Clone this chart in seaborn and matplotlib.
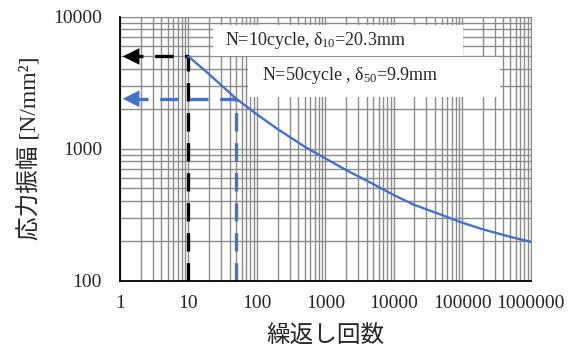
import numpy as np
import pandas as pd
import matplotlib
matplotlib.use("Agg")
import matplotlib.pyplot as plt
import seaborn as sns
from matplotlib.patches import Rectangle
from matplotlib.ticker import LogLocator, FixedLocator

#### Data
cycles = [10, 20, 50, 100, 200, 500, 1000, 2000, 5000, 10000,
          20000, 50000, 100000, 200000, 500000, 1000000]
stress = [5000, 3670, 2390, 1820, 1410, 1035, 845, 690, 540, 445,
          375, 315, 275, 245, 215, 197]
n10, s10 = 10, 5000
n50, s50 = 50, 2390
x_ticks = [1, 10, 100, 1000, 10000, 100000, 1000000]
y_ticks = [100, 1000, 10000]
label_10 = r"N=10cycle, $\delta_{10}$=20.3mm"
label_50 = r"N=50cycle , $\delta_{50}$=9.9mm"

df = pd.DataFrame({"N": cycles, "S": stress})

#### Style
sns.set_style("white")
plt.rcParams["font.family"] = ["Liberation Serif", "Noto Sans CJK JP", "DejaVu Sans"]
plt.rcParams["mathtext.fontset"] = "custom"
plt.rcParams["mathtext.rm"] = "Liberation Serif"
plt.rcParams["mathtext.it"] = "Liberation Serif"

blue = "#4472C4"
grid_c = "#8c8c8c"

fig = plt.figure(figsize=(5.76, 3.53), dpi=100)
ax = fig.add_axes([0.2083, 0.2048, 0.7131, 0.7479])

sns.lineplot(data=df, x="N", y="S", color=blue, lw=1.7, ax=ax, zorder=4)

ax.set_xscale("log")
ax.set_yscale("log")
ax.set_xlim(1, 1000000)
ax.set_ylim(100, 10000)

ax.xaxis.set_major_locator(FixedLocator(x_ticks))
ax.yaxis.set_major_locator(FixedLocator(y_ticks))
ax.xaxis.set_minor_locator(LogLocator(base=10, subs=np.arange(2, 10), numticks=20))
ax.yaxis.set_minor_locator(LogLocator(base=10, subs=np.arange(2, 10), numticks=20))
ax.set_xticklabels([str(t) for t in x_ticks])
ax.set_yticklabels([str(t) for t in y_ticks])
ax.tick_params(which="both", length=0, labelsize=14)
ax.tick_params(axis="x", pad=10)
ax.tick_params(axis="y", pad=13)

ax.set_axisbelow(True)
ax.grid(which="both", color=grid_c, lw=1.0)

for side in ["top", "right"]:
    ax.spines[side].set_color(grid_c)
for side in ["left", "bottom"]:
    ax.spines[side].set_color("black")
    ax.spines[side].set_linewidth(1.3)
    ax.spines[side].set_zorder(5)

# dashed guide lines
ax.plot([n10, n10, 1.2], [100, s10, s10], color="black", lw=2.4,
        dashes=(5.5, 3.5), zorder=3)
ax.plot([n50, n50, 1.2], [100, s50, s50], color=blue, lw=2.4,
        dashes=(5.5, 3.5), zorder=3)
ax.annotate("", xy=(1.0, s10), xytext=(1.7, s10),
            arrowprops=dict(arrowstyle="-|>", color="black", lw=0,
                            mutation_scale=30), zorder=3)
ax.annotate("", xy=(1.0, s50), xytext=(1.7, s50),
            arrowprops=dict(arrowstyle="-|>", color=blue, lw=0,
                            mutation_scale=30), zorder=3)

# text boxes
ax.add_patch(Rectangle((0.2264, 0.8523), 0.6086, 0.1163, transform=ax.transAxes,
                       facecolor="white", edgecolor="none", zorder=2))
ax.add_patch(Rectangle((0.3117, 0.6958), 0.6133, 0.1527, transform=ax.transAxes,
                       facecolor="white", edgecolor="none", zorder=2))
ax.text(0.2557, 0.9117, label_10, transform=ax.transAxes, fontsize=13,
        va="center", ha="left", zorder=6)
ax.text(0.3457, 0.7754, label_50, transform=ax.transAxes, fontsize=13,
        va="center", ha="left", zorder=6)

ax.set_xlabel("繰返し回数", fontsize=17, labelpad=10)
ax.set_ylabel("応力振幅 [N/mm²]", fontsize=17, labelpad=8)

fig.savefig("out.png", dpi=100)
